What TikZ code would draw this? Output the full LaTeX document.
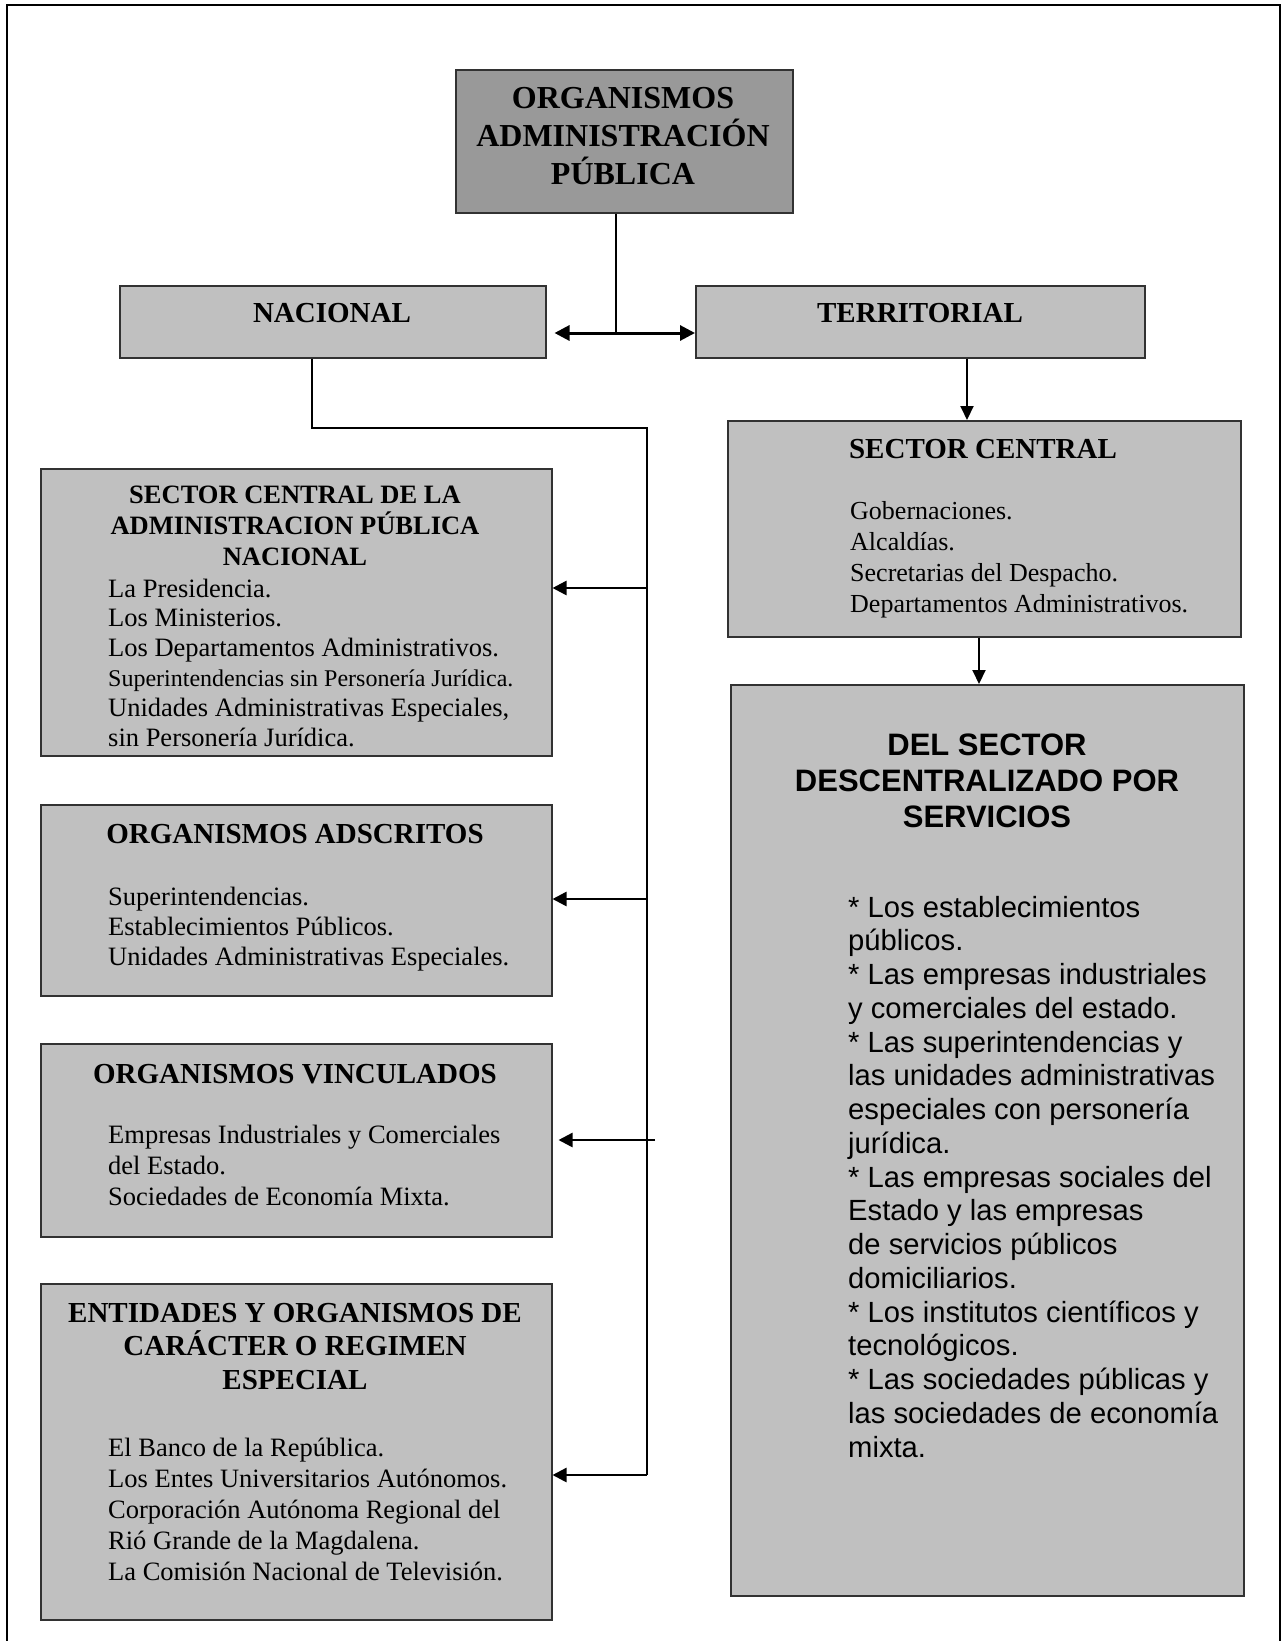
\documentclass[tikz,border=0pt]{standalone}
\usepackage{fontspec}
\setmainfont{Liberation Serif}
\newfontfamily\arialf{Liberation Sans}
\usetikzlibrary{arrows.meta,calc}

\definecolor{boxgray}{RGB}{192,192,192}
\definecolor{topgray}{RGB}{153,153,153}
\definecolor{edgegray}{RGB}{50,50,50}

\begin{document}
\begin{tikzpicture}[x=1pt,y=-1pt,
  panel/.style={draw=edgegray,line width=1.5pt,fill=boxgray,rectangle,anchor=north west,inner sep=0pt},
  head/.style={anchor=base,align=center,inner sep=0pt,font=\bfseries\fontsize{29}{33.5}\selectfont},
  body/.style={anchor=base west,align=left,inner sep=0pt,font=\fontsize{26.5}{30.5}\selectfont},
  link/.style={line width=1.3pt},
  arr/.style={line width=2.5pt,-{Triangle[length=14pt,width=14pt]}},
  varr/.style={line width=2pt,-{Triangle[length=14pt,width=13pt]}},
  dblarr/.style={line width=3pt,{Triangle[length=15pt,width=15pt]}-{Triangle[length=15pt,width=15pt]}}
]
\useasboundingbox (0,0) rectangle (1285,1641);

% page frame, open at the foot
\draw[line width=2.2pt] (7,1641) -- (7,5) -- (1280,5) -- (1280,1641);

% ---- boxes ----
\node[panel,fill=topgray,minimum width=337pt,minimum height=143pt] (top) at (455,69) {};
\node[panel,minimum width=426pt,minimum height=72pt] (nac) at (119,285) {};
\node[panel,minimum width=449pt,minimum height=72pt] (ter) at (695,285) {};
\node[panel,minimum width=511pt,minimum height=287pt] (scn) at (40,468) {};
\node[panel,minimum width=511pt,minimum height=191pt] (ads) at (40,804) {};
\node[panel,minimum width=511pt,minimum height=193pt] (vin) at (40,1043) {};
\node[panel,minimum width=511pt,minimum height=336pt] (ent) at (40,1283) {};
\node[panel,minimum width=513pt,minimum height=216pt] (scr) at (727,420) {};
\node[panel,minimum width=513pt,minimum height=911pt] (des) at (730,684) {};

% ---- texts (multi-line nodes sit on the baseline of their last line) ----
\node[head,font=\bfseries\fontsize{32}{38}\selectfont] (topT) at (623,184)
  {ORGANISMOS\\ADMINISTRACIÓN\\PÚBLICA};
\node[head] (nacT) at (332,322) {NACIONAL};
\node[head] (terT) at (920,322) {TERRITORIAL};

\node[head,font=\bfseries\fontsize{26.5}{31}\selectfont] (scnT) at (295,565)
  {SECTOR CENTRAL DE LA\\ADMINISTRACION PÚBLICA\\NACIONAL};
\node[body,font=\fontsize{26.5}{29.8}\selectfont] (scnB) at (108,746)
  {La Presidencia.\\Los Ministerios.\\Los Departamentos Administrativos.\\
   {\fontsize{24}{29.8}\selectfont Superintendencias sin Personería Jurídica.}\\
   Unidades Administrativas Especiales,\\sin Personería Jurídica.};

\node[head] (adsT) at (295,843) {ORGANISMOS ADSCRITOS};
\node[body,font=\fontsize{26.5}{30}\selectfont] (adsB) at (108,965)
  {Superintendencias.\\Establecimientos Públicos.\\Unidades Administrativas Especiales.};

\node[head] (vinT) at (295,1083) {ORGANISMOS VINCULADOS};
\node[body,font=\fontsize{26.5}{31}\selectfont] (vinB) at (108,1205)
  {Empresas Industriales y Comerciales\\del Estado.\\Sociedades de Economía Mixta.};

\node[head] (entT) at (295,1389)
  {ENTIDADES Y ORGANISMOS DE\\CARÁCTER O REGIMEN\\ESPECIAL};
\node[body,font=\fontsize{26.5}{30.8}\selectfont] (entB) at (108,1580)
  {El Banco de la República.\\Los Entes Universitarios Autónomos.\\
   Corporación Autónoma Regional del\\Rió Grande de la Magdalena.\\
   La Comisión Nacional de Televisión.};

\node[head] (scrT) at (983,458) {SECTOR CENTRAL};
\node[body,font=\fontsize{26}{30.7}\selectfont] (scrB) at (850,612)
  {Gobernaciones.\\Alcaldías.\\Secretarias del Despacho.\\Departamentos Administrativos.};

\node[head,font=\arialf\bfseries\fontsize{31}{36}\selectfont] (desT) at (987,827)
  {DEL SECTOR\\DESCENTRALIZADO POR\\SERVICIOS};
\node[body,font=\arialf\fontsize{29.2}{33.75}\selectfont] (desB) at (848,1457)
  {* Los establecimientos\\públicos.\\* Las empresas industriales\\y comerciales del estado.\\
   * Las superintendencias y\\las unidades administrativas\\especiales con personería\\jurídica.\\
   * Las empresas sociales del\\Estado y las empresas\\de servicios públicos\\domiciliarios.\\
   * Los institutos científicos y\\tecnológicos.\\* Las sociedades públicas y\\
   las sociedades de economía\\mixta.};

% ---- connectors ----
\coordinate (hub) at (616,333);
\draw[link] (top.south -| hub) -- (hub);
\draw[dblarr] ($(nac.east |- hub)+(8,0)$) -- (ter.west |- hub);

\coordinate (drop) at (312,428);
\coordinate (bend) at (647,428);
\coordinate (b1) at (647,588);
\coordinate (b2) at (647,899);
\coordinate (b3) at (655,1140);
\coordinate (b4) at (647,1475);
\draw[link] (nac.south -| drop) -- (drop) -- (bend) -- (b4);
\draw[arr] (b1) -- (scn.east |- b1);
\draw[arr] (b2) -- (ads.east |- b2);
\draw[arr] (b3) -- ($(vin.east |- b3)+(6,0)$);
\draw[arr] (b4) -- (ent.east |- b4);

\coordinate (t1) at (967,0);
\coordinate (t2) at (979,0);
\draw[varr] (ter.south -| t1) -- (scr.north -| t1);
\draw[varr] (scr.south -| t2) -- (des.north -| t2);
\end{tikzpicture}
\end{document}
